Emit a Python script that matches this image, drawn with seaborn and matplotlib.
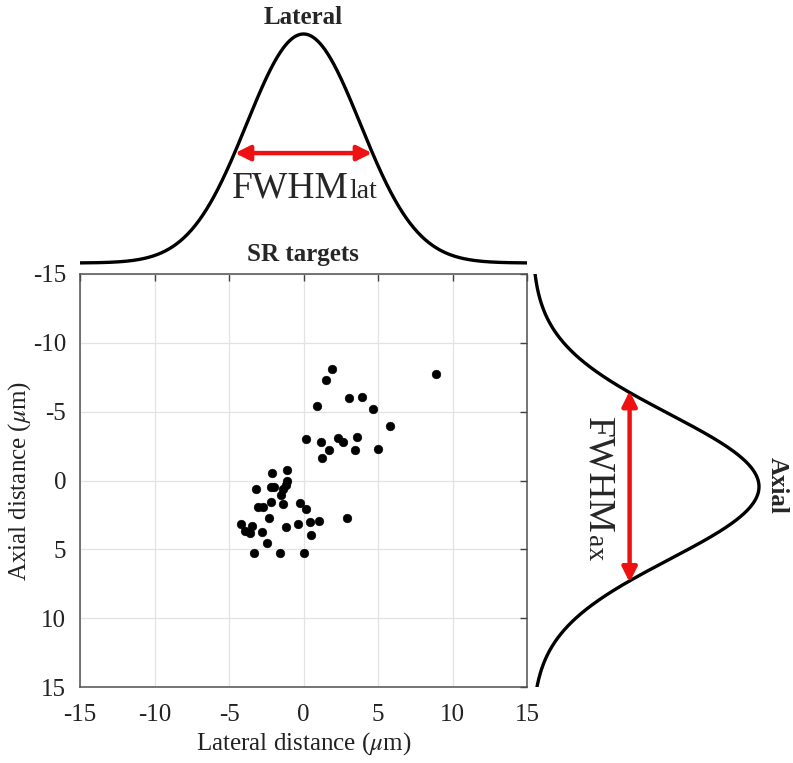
import numpy as np
import pandas as pd
import matplotlib
matplotlib.use("Agg")
import matplotlib.pyplot as plt
import seaborn as sns

# ---------------- data ----------------
lateral_um = [1.91, 1.53, 8.89, 3.03, 3.95, 0.89, 4.68, 5.81, 0.15, 1.17,
              2.34, 2.67, 3.57, 1.73, 3.48, 4.98, 1.26, -2.09, -1.13, -1.09,
              -1.20, -3.21, -2.20, -1.96, -1.40, -1.53, -2.20, -1.36, -0.23, 0.17,
              -3.03, -2.74, -2.30, -4.21, -3.48, -3.93, -3.59, -2.81, -1.17, -0.35,
              0.44, 1.06, 2.90, 0.50, -2.47, -3.32, -1.56, 0.05]
axial_um = [-8.10, -7.28, -7.71, -5.99, -6.09, -5.43, -5.17, -3.96, -2.99, -2.80,
            -3.06, -2.77, -3.16, -2.19, -2.19, -2.27, -1.61, -0.57, -0.76, 0.01,
            0.30, 0.64, 0.49, 0.49, 0.64, 1.05, 1.54, 1.73, 1.61, 2.07,
            1.95, 1.95, 2.75, 3.18, 3.28, 3.65, 3.79, 3.72, 3.36, 3.18,
            3.04, 2.94, 2.75, 3.96, 4.56, 5.24, 5.24, 5.24]

x_ticks = [-15, -10, -5, 0, 5, 10, 15]
x_tick_labels = ["-15", "-10", "-5", "0", "5", "10", "15"]
y_ticks = [-15, -10, -5, 0, 5, 10, 15]
y_tick_labels = ["-15", "-10", "-5", "0", "5", "10", "15"]

# PSF profile parameters (um)
fwhm_lat = 9.0
fwhm_ax = 12.4
center_lat = 0.0
center_ax = 0.45

# ---------------- style ----------------
sns.set_style("white")
plt.rcParams["font.family"] = ["Liberation Serif", "DejaVu Serif"]
plt.rcParams["mathtext.fontset"] = "stix"

W, H = 793, 763
fig = plt.figure(figsize=(W / 100, H / 100), dpi=100)


def px_rect(l, t, r, b):
    return [l / W, 1 - b / H, (r - l) / W, (b - t) / H]


# ---------------- main scatter ----------------
ax = fig.add_axes(px_rect(80, 274, 527, 687))
df = pd.DataFrame({"lat": lateral_um, "ax": axial_um})
sns.scatterplot(data=df, x="lat", y="ax", ax=ax, color="black", s=40,
                edgecolor="black", linewidth=0.3, zorder=3)
ax.set_xlim(-15, 15)
ax.set_ylim(15, -15)
ax.set_xticks(x_ticks)
ax.set_xticklabels(x_tick_labels)
ax.set_yticks(y_ticks)
ax.set_yticklabels(y_tick_labels)
ax.grid(True, color="#e3e3e3", linewidth=0.9)
ax.tick_params(direction="in", length=5, width=1, color="#404040",
               top=True, right=True, labelsize=18, labelcolor="#222222")
ax.tick_params(axis="x", pad=12)
ax.tick_params(axis="y", pad=10)
for sp in ax.spines.values():
    sp.set_visible(True)
    sp.set_color("#505050")
    sp.set_linewidth(1.1)
ax.set_xlabel(r"Lateral distance ($\mu$m)", fontsize=18, color="#222222", labelpad=3)
ax.set_ylabel(r"Axial distance ($\mu$m)", fontsize=18, color="#222222", labelpad=0)

# ---------------- top lateral profile ----------------
axt = fig.add_axes(px_rect(80, 20, 527, 270))
axt.axis("off")
sig_lat = fwhm_lat / (2 * np.sqrt(2 * np.log(2)))
xs = np.linspace(-15, 15, 600)
prof_lat = np.exp(-(xs - center_lat) ** 2 / (2 * sig_lat ** 2))
sns.lineplot(x=xs, y=prof_lat, ax=axt, color="black", linewidth=2.4,
             sort=False, estimator=None)
axt.set_xlim(-15, 15)
axt.set_ylim(-(270 - 263) / 229, (263 - 20) / 229)
axt.annotate("", xy=(center_lat - 4.6, 0.48), xytext=(center_lat + 4.6, 0.48),
             arrowprops=dict(arrowstyle="<|-|>", color="#ee1111", lw=3.2,
                             mutation_scale=22, shrinkA=0, shrinkB=0))

# ---------------- right axial profile ----------------
axr = fig.add_axes(px_rect(520, 274, 790, 687))
axr.axis("off")
sig_ax = fwhm_ax / (2 * np.sqrt(2 * np.log(2)))
ys = np.linspace(-15, 15, 600)
prof_ax = np.exp(-(ys - center_ax) ** 2 / (2 * sig_ax ** 2))
sns.lineplot(x=prof_ax, y=ys, ax=axr, color="black", linewidth=2.4,
             sort=False, estimator=None)
axr.set_ylim(15, -15)
axr.set_xlim(-12 / 227, 258 / 227)
axr.annotate("", xy=(0.43, center_ax - 6.95), xytext=(0.43, center_ax + 6.95),
             arrowprops=dict(arrowstyle="<|-|>", color="#ee1111", lw=3.2,
                             mutation_scale=22, shrinkA=0, shrinkB=0))

# ---------------- texts ----------------
def fpx(x, y):
    return x / W, 1 - y / H


fig.text(*fpx(303, 18), "Lateral", ha="center", va="center", fontsize=18, fontweight="bold")
fig.text(*fpx(303, 254), "SR targets", ha="center", va="center", fontsize=18, fontweight="bold")
fig.text(*fpx(777, 485), "Axial", ha="center", va="center", fontsize=18, fontweight="bold",
         rotation=-90)

fig.canvas.draw()
renderer = fig.canvas.get_renderer()

t1 = fig.text(*fpx(232, 198), "FWHM", ha="left", va="baseline", fontsize=27)
bb = t1.get_window_extent(renderer)
fig.text(bb.x1 / W + 1 / W, 1 - 198 / H, "lat", ha="left", va="baseline", fontsize=20)

t2 = fig.text(*fpx(588, 417), "FWHM", ha="left", va="baseline", fontsize=27,
              rotation=-90, rotation_mode="anchor")
bb2 = t2.get_window_extent(renderer)
fig.text(588 / W, (bb2.y0 - 1) / H, "ax", ha="left", va="baseline", fontsize=20,
         rotation=-90, rotation_mode="anchor")

fig.savefig("out.png", dpi=100)
